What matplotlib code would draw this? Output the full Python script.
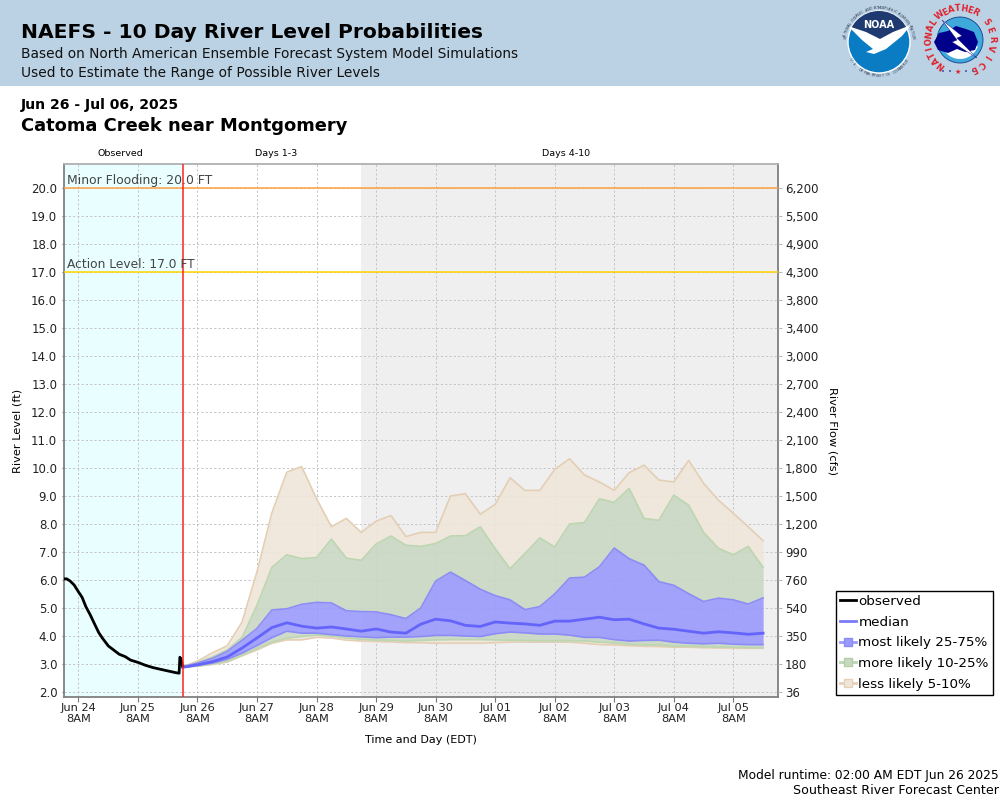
"""
NAEFS 10 day river level probabilities, Catoma Creek near Montgomery.
Saves to out.png
"""

import numpy as np
import pandas as pd
import matplotlib
matplotlib.use("Agg")
import matplotlib.pyplot as plt
from matplotlib.lines import Line2D
from matplotlib.patches import Circle, Polygon, Wedge, Rectangle

W, H = 1000, 800

# observed stage, hours after Jun 24 02:00
obs_hours = [0, 1.3, 2.7, 4.3, 6.0, 7.5, 9.0, 10.8, 12.4, 14.2, 15.7, 18.1, 20.2, 22.4, 24.9,
             27, 30.2, 33.1, 36.1, 39.1, 42.1, 45.2, 46.6, 46.9, 47.3, 48]
obs_level = [6.04, 6.04, 5.96, 5.82, 5.58, 5.38, 5.05, 4.75, 4.45, 4.12, 3.92, 3.64, 3.5, 3.35,
             3.26, 3.14, 3.05, 2.95, 2.87, 2.81, 2.75, 2.69, 2.67, 3.24, 3.19, 2.93]

# forecast percentiles, 6-hourly from Jun 26 02:00
p05 = [2.88, 2.92, 2.98, 3.07, 3.29, 3.5, 3.74, 3.86, 3.86, 3.95, 3.93, 3.85, 3.82, 3.8,
       3.79, 3.76, 3.76, 3.74, 3.74, 3.74, 3.74, 3.76, 3.78, 3.78, 3.78, 3.78, 3.78, 3.74,
       3.69, 3.68, 3.65, 3.63, 3.62, 3.6, 3.6, 3.58, 3.57, 3.56, 3.56, 3.56]
p10 = [2.88, 2.93, 3.0, 3.1, 3.32, 3.55, 3.78, 3.92, 3.98, 4.03, 4.0, 3.93, 3.88, 3.85,
       3.84, 3.82, 3.84, 3.86, 3.87, 3.87, 3.87, 3.86, 3.85, 3.84, 3.83, 3.83, 3.83, 3.82,
       3.78, 3.75, 3.7, 3.68, 3.68, 3.63, 3.63, 3.62, 3.6, 3.6, 3.58, 3.58]
p25 = [2.88, 2.95, 3.03, 3.17, 3.39, 3.66, 3.94, 4.17, 4.1, 4.1, 4.05, 4.0, 3.97, 3.94,
       3.96, 3.96, 3.98, 4.02, 4.02, 4.0, 3.98, 4.08, 4.14, 4.11, 4.07, 4.07, 4.03, 3.95,
       3.95, 3.87, 3.82, 3.84, 3.85, 3.78, 3.74, 3.72, 3.74, 3.71, 3.69, 3.69]
p50 = [2.88, 2.97, 3.08, 3.25, 3.57, 3.93, 4.3, 4.47, 4.35, 4.28, 4.32, 4.25, 4.17, 4.25,
       4.14, 4.1, 4.42, 4.6, 4.54, 4.38, 4.34, 4.5, 4.46, 4.43, 4.38, 4.53, 4.53, 4.6,
       4.67, 4.58, 4.6, 4.43, 4.28, 4.24, 4.17, 4.1, 4.15, 4.11, 4.06, 4.1]
p75 = [2.9, 3.03, 3.2, 3.45, 3.85, 4.27, 4.93, 4.97, 5.13, 5.2, 5.18, 4.9, 4.87, 4.86,
       4.76, 4.62, 5.0, 5.96, 6.28, 5.98, 5.67, 5.44, 5.29, 4.94, 5.05, 5.5, 6.07, 6.1,
       6.47, 7.14, 6.76, 6.53, 5.94, 5.81, 5.51, 5.23, 5.35, 5.29, 5.14, 5.36]
p90 = [2.9, 3.05, 3.25, 3.5, 3.95, 5.1, 6.45, 6.9, 6.76, 6.8, 7.46, 6.78, 6.7, 7.28,
       7.57, 7.24, 7.2, 7.3, 7.57, 7.58, 7.9, 7.12, 6.4, 6.95, 7.5, 7.18, 8.0, 8.05,
       8.9, 8.77, 9.27, 8.2, 8.13, 9.03, 8.67, 7.7, 7.13, 6.9, 7.2, 6.45]
p95 = [2.9, 3.1, 3.4, 3.65, 4.5, 6.3, 8.4, 9.85, 10.05, 8.9, 7.9, 8.2, 7.7, 8.1,
       8.3, 7.55, 7.7, 7.7, 9.0, 9.08, 8.35, 8.7, 9.65, 9.2, 9.2, 9.95, 10.33, 9.75,
       9.5, 9.2, 9.83, 10.1, 9.57, 9.5, 10.27, 9.45, 8.85, 8.38, 7.9, 7.4]

stage_ticks = list(range(2, 21))
flow_labels = ["36", "180", "350", "540", "760", "990", "1,200", "1,500", "1,800", "2,100",
               "2,400", "2,700", "3,000", "3,400", "3,800", "4,300", "4,900", "5,500", "6,200"]
day_labels = ["Jun 24", "Jun 25", "Jun 26", "Jun 27", "Jun 28", "Jun 29", "Jun 30",
              "Jul 01", "Jul 02", "Jul 03", "Jul 04", "Jul 05"]

start = pd.Timestamp("2025-06-24 02:00")
now = pd.Timestamp("2025-06-26 02:00")
shade = pd.Timestamp("2025-06-29 02:00")
end = pd.Timestamp("2025-07-06 02:00")

BLUE, BLUE_E = "#9a9afc", "#8c8cf6"
GREEN, GREEN_E = "#c9d8c3", "#bcd6b0"
TAN, TAN_E = "#efe6da", "#e4cfb5"


def px_x(x):
    return x / W


def px_y(y):
    return 1 - y / H


fig = plt.figure(figsize=(10, 8), dpi=100)
fig.patches.append(Rectangle((0, px_y(86)), 1, 86 / H, transform=fig.transFigure,
                             color="#bbd2e4", lw=0, zorder=-5))

ax = fig.add_axes([px_x(63.5), px_y(697), (778 - 63.5) / W, (697 - 164) / H])
t_obs = start + pd.to_timedelta(obs_hours, unit="h")
t_fc = pd.date_range(now, periods=len(p50), freq="6h")

ax.axvspan(start, now, color="#e9ffff", lw=0, zorder=0)
ax.axvspan(shade, end, color="#efefef", lw=0, zorder=0)

ticks = [pd.Timestamp("2025-06-24 08:00") + pd.Timedelta(days=i) for i in range(len(day_labels))]
ax.set_xticks(ticks)
ax.set_xticklabels([f"{d}\n8AM" for d in day_labels], fontsize=8.2, linespacing=1.1, color="#222222")
ax.set_yticks(stage_ticks)
ax.set_yticklabels([f"{v:.1f}" for v in stage_ticks], fontsize=8.5, color="#222222")
ax.grid(color="#c4c4c4", ls=(0, (2.2, 2.2)), lw=0.7, zorder=1)
ax.set_axisbelow(True)
ax.set_xlim(start, end)
ax.set_ylim(1.82, 20.857)
ax.tick_params(axis="x", color="#777777", length=3.5, width=0.8, pad=1)
ax.tick_params(axis="y", color="#777777", length=1.5, width=0.8, pad=3)

# bands, stacked outermost first
bands = [(p90, p95, TAN), (p05, p10, TAN), (p75, p90, GREEN), (p10, p25, GREEN), (p25, p75, BLUE)]
for lo, hi, col in bands:
    ax.fill_between(t_fc, lo, hi, color=col, alpha=0.9, lw=0, zorder=2)
for ser, edge, z in [(p95, TAN_E, 3), (p05, TAN_E, 3), (p90, GREEN_E, 3.1), (p10, GREEN_E, 3.1),
                     (p75, BLUE_E, 3.2), (p25, BLUE_E, 3.2)]:
    ax.plot(t_fc, ser, color=edge, lw=1.2, zorder=z)
ax.plot(t_fc, p50, color="#6464fa", lw=2, zorder=4)
ax.plot(t_obs, obs_level, color="black", lw=2, zorder=5)

ax.axhline(20, color="#ffa040", lw=1.1, zorder=3)
ax.axhline(17, color="#ffd400", lw=1.1, zorder=3)
ax.axvline(now, color="#ff2020", lw=1.1, zorder=6)
ax.text(px_x(67), px_y(187), "Minor Flooding: 20.0 FT", transform=fig.transFigure,
        fontsize=8.9, color="#444444", va="bottom", zorder=7)
ax.text(px_x(67), px_y(271), "Action Level: 17.0 FT", transform=fig.transFigure,
        fontsize=8.8, color="#444444", va="bottom", zorder=7)

for s in ax.spines.values():
    s.set_color("#808080")
    s.set_linewidth(1.3)
ax.spines["top"].set_color("#b0b0b0")

ax2 = ax.twinx()
ax2.set_ylim(ax.get_ylim())
ax2.set_yticks(stage_ticks)
ax2.set_yticklabels(flow_labels, fontsize=8.5, color="#222222")
ax2.tick_params(axis="y", color="#bbbbbb", length=3, width=0.8, pad=2)
for s in ax2.spines.values():
    s.set_visible(False)

# page text
fig.text(px_x(21), px_y(33), "NAEFS - 10 Day River Level Probabilities", fontsize=14.6,
         fontweight="bold", va="center", color="black")
fig.text(px_x(21), px_y(54), "Based on North American Ensemble Forecast System Model Simulations",
         fontsize=9.9, va="center", color="#111111")
fig.text(px_x(21), px_y(73), "Used to Estimate the Range of Possible River Levels",
         fontsize=9.9, va="center", color="#111111")
fig.text(px_x(21), px_y(105), "Jun 26 - Jul 06, 2025", fontsize=10.1, fontweight="bold",
         va="center", color="black")
fig.text(px_x(21), px_y(126), "Catoma Creek near Montgomery", fontsize=12.9, fontweight="bold",
         va="center", color="black")
for label, x in [("Observed", 120), ("Days 1-3", 276.5), ("Days 4-10", 566.5)]:
    fig.text(px_x(x), px_y(153.5), label, fontsize=6.8, ha="center", va="center")
fig.text(px_x(18), px_y(431), "River Level (ft)", fontsize=8.2, rotation=90, ha="center", va="center")
fig.text(px_x(832), px_y(431), "River Flow (cfs)", fontsize=8.2, rotation=-90, ha="center", va="center")
fig.text(px_x(421), px_y(740), "Time and Day (EDT)", fontsize=8, ha="center", va="center")
fig.text(px_x(999), px_y(775), "Model runtime: 02:00 AM EDT Jun 26 2025", fontsize=8.8, ha="right", va="center")
fig.text(px_x(999), px_y(791), "Southeast River Forecast Center", fontsize=9.05, ha="right", va="center")

handles = [
    Line2D([], [], color="black", lw=2),
    Line2D([], [], color="#7a7afa", lw=2),
    Line2D([], [], color="#9a9afa", lw=2, marker="s", ms=6, mfc=BLUE, mec="#8c8cf6"),
    Line2D([], [], color="#bcd6b0", lw=2, marker="s", ms=6, mfc=GREEN, mec="#b0cfa4"),
    Line2D([], [], color="#e6d0b8", lw=2, marker="s", ms=6, mfc=TAN, mec="#e6d0b8"),
]
names = ["observed", "median", "most likely 25-75%", "more likely 10-25%", "less likely 5-10%"]
leg = fig.legend(handles, names, loc="lower left", bbox_to_anchor=(px_x(835.5), px_y(695)),
                 borderaxespad=0, fontsize=9.7, frameon=True, fancybox=False, edgecolor="black",
                 framealpha=1, handlelength=1.25, handletextpad=0.15, labelspacing=0.58,
                 borderpad=0.3)
leg.get_frame().set_linewidth(1)

# logos, drawn in pixel coordinates
lg = fig.add_axes([0, 0, 1, 1], facecolor="none")
lg.set_xlim(0, W)
lg.set_ylim(H, 0)
lg.axis("off")


def ring_text(text, cx, cy, r, a0, a1, top=True, **kw):
    for ch, a in zip(text, np.linspace(a0, a1, len(text))):
        rad = np.deg2rad(a)
        rot = a - 90 if top else a + 90
        lg.text(cx + r * np.cos(rad), cy - r * np.sin(rad), ch, rotation=rot,
                ha="center", va="center", rotation_mode="anchor", **kw)


# NOAA
cx, cy = 879, 42
disc = Circle((cx, cy), 31, fc="#0a7cc4", ec="white", lw=1)
lg.add_patch(disc)
navy = Polygon([(845, 5), (913, 5), (913, 26), (880, 39), (845, 26)], fc="#1f3a70", ec="none")
lg.add_patch(navy)
navy.set_clip_path(Circle((cx, cy), 31, transform=lg.transData))
lg.add_patch(Polygon([(848, 26), (866, 32), (880, 39), (893, 32), (911, 25), (902, 36),
                      (886, 49), (874, 54), (866, 52), (873, 49), (862, 40)],
                     fc="white", ec="none"))
lg.text(cx, 25, "NOAA", color="white", fontsize=7, fontweight="bold", ha="center", va="center")
ring_text("NATIONAL OCEANIC AND ATMOSPHERIC ADMINISTRATION", cx, cy, 34, 172, 8, True,
          fontsize=2.6, color="#303a50")
ring_text("U.S. DEPARTMENT OF COMMERCE", cx, cy, 34, 212, 328, False, fontsize=2.6, color="#303a50")

# NWS
cx, cy = 960, 40
lg.add_patch(Circle((cx, cy), 23, fc="#3fa9dc", ec="#163a8a", lw=0.6))
lg.add_patch(Wedge((cx, cy), 19, 20, 160, fc="white", ec="none"))
lg.add_patch(Polygon([(934, 42), (939, 33), (948, 31), (956, 26), (966, 29), (974, 32),
                      (978, 42), (975, 50), (965, 52), (957, 49), (948, 53), (938, 50)],
                     fc="#00008b", ec="none"))
lg.add_patch(Polygon([(942, 20), (962, 36), (957, 38), (977, 58), (952, 42), (957, 40)],
                     fc="white", ec="#00008b", lw=0.3))
ring_text("NATIONAL", cx, cy, 31.5, 232, 146, True, fontsize=6, fontweight="bold", color="#e0202c")
ring_text("WEATHER", cx, cy, 31.5, 129, 60, True, fontsize=6, fontweight="bold", color="#e0202c")
ring_text("SERVICE", cx, cy, 31.5, 35, -65, True, fontsize=6, fontweight="bold", color="#e0202c")
lg.text(958, 72, "\u2605", fontsize=5, color="#e0202c", ha="center", va="center")
for dx in (-15, -8, 8, 15):
    lg.add_patch(Circle((958 + dx, 71), 0.9, fc="#1f3a90", ec="none"))

fig.savefig("out.png", dpi=100)
plt.close(fig)
